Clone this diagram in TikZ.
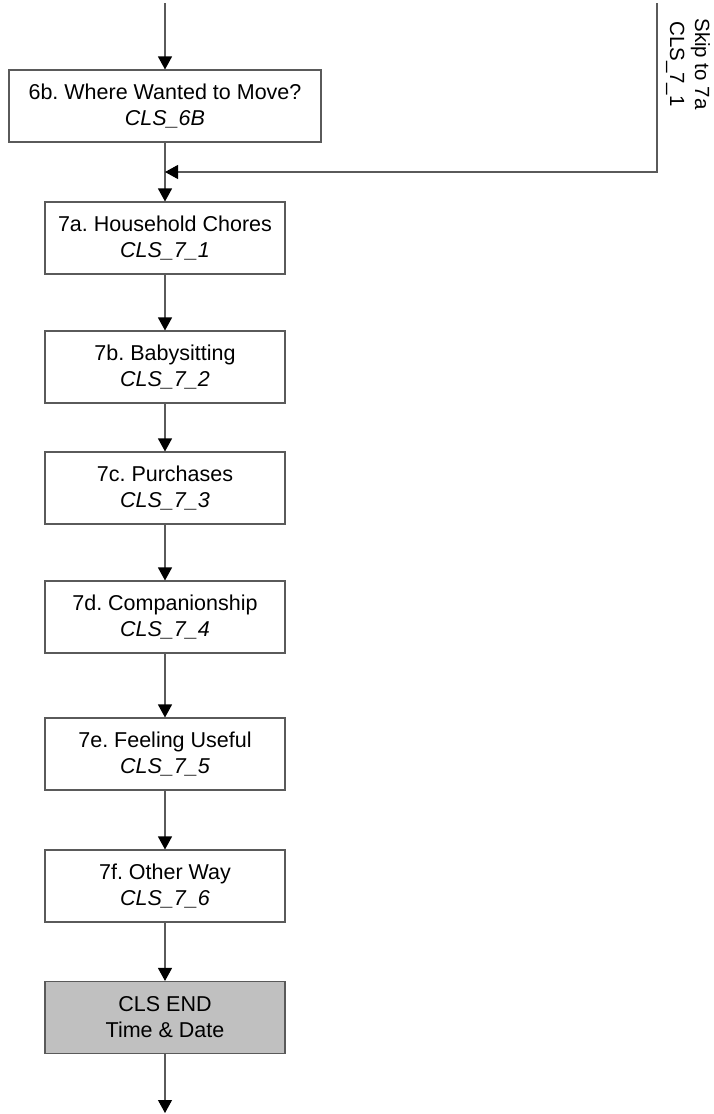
\documentclass[tikz,border=0pt]{standalone}
\usepackage{fontspec}
\setmainfont{Liberation Sans}
\frenchspacing
\usetikzlibrary{arrows.meta}
\definecolor{linegray}{HTML}{5A5A5A}
\definecolor{endfill}{HTML}{C0C0C0}
\tikzset{
  x=1pt, y=-1pt,
  qbox/.style={draw=linegray, line width=1.1pt, minimum height=72pt, inner sep=0pt,
    align=center, font=\fontsize{21.5}{26}\selectfont, fill=white},
  widebox/.style={qbox, minimum width=312pt},
  stdbox/.style={qbox, minimum width=240pt},
  endbox/.style={stdbox, fill=endfill},
  flow/.style={draw=linegray, line width=1.1pt, -{Triangle[length=13pt,width=14pt,color=black]}},
}
\begin{document}
\begin{tikzpicture}
\useasboundingbox (0,0) rectangle (714,1114);
\coordinate (top) at (165,3);
\coordinate (skiptop) at (657,3);
\coordinate (skipcorner) at (657,172);
\coordinate (join) at (165,172);
\coordinate (bottom) at (165,1113);

\node[widebox] (q6b) at (165,106) {6b. Where Wanted to Move?\\\textit{CLS\_6B}};
\node[stdbox] (q7a) at (165,238) {7a. Household Chores\\\textit{CLS\_7\_1}};
\node[stdbox] (q7b) at (165,367) {7b. Babysitting\\\textit{CLS\_7\_2}};
\node[stdbox] (q7c) at (165,488) {7c. Purchases\\\textit{CLS\_7\_3}};
\node[stdbox] (q7d) at (165,617) {7d. Companionship\\\textit{CLS\_7\_4}};
\node[stdbox] (q7e) at (165,754) {7e. Feeling Useful\\\textit{CLS\_7\_5}};
\node[stdbox] (q7f) at (165,886) {7f. Other Way\\\textit{CLS\_7\_6}};
\node[endbox] (qend) at (165,1017.5) {CLS END\\Time \& Date};

\node[rotate=-90, align=center, font=\fontsize{20.5}{25}\selectfont, inner sep=0pt] (skiplbl) at (688,64) {Skip to 7a\\CLS\_7\_1};

\draw[flow] (top) -- (q6b.north);
\draw[flow] (q6b.south) -- (q7a.north);
\draw[flow] (skiptop) -- (skipcorner) -- (join);
\draw[flow] (q7a.south) -- (q7b.north);
\draw[flow] (q7b.south) -- (q7c.north);
\draw[flow] (q7c.south) -- (q7d.north);
\draw[flow] (q7d.south) -- (q7e.north);
\draw[flow] (q7e.south) -- (q7f.north);
\draw[flow] (q7f.south) -- (qend.north);
\draw[flow] (qend.south) -- (bottom);
\end{tikzpicture}
\end{document}
